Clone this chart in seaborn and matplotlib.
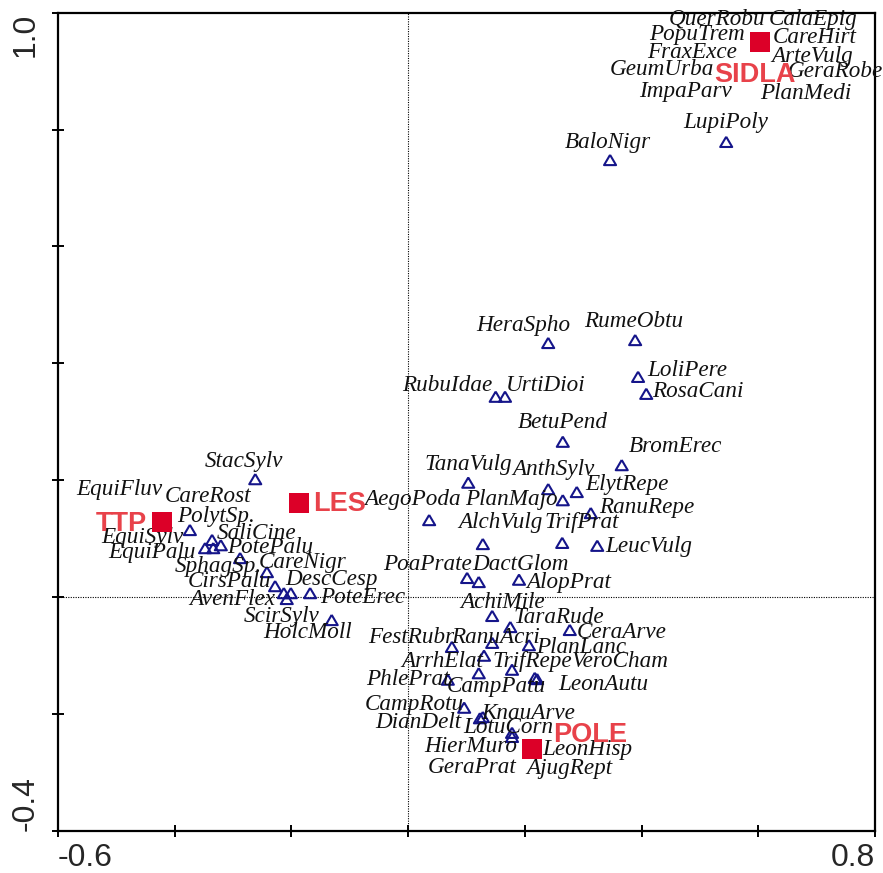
import matplotlib
matplotlib.use("Agg")
import matplotlib.pyplot as plt
import matplotlib.transforms as mtransforms
import pandas as pd
import seaborn as sns

# Species scores on the first two ordination axes
species = [
    "QuerRobu", "CalaEpig", "PopuTrem", "CareHirt", "FraxExce", "ArteVulg",
    "GeumUrba", "GeraRobe", "ImpaParv", "PlanMedi", "LupiPoly", "BaloNigr",
    "HeraSpho", "RumeObtu", "LoliPere", "RosaCani", "RubuIdae", "UrtiDioi",
    "BetuPend", "BromErec", "TanaVulg", "AnthSylv", "ElytRepe", "AegoPoda",
    "PlanMajo", "RanuRepe", "AlchVulg", "TrifPrat", "LeucVulg", "PoaPrate",
    "DactGlom", "AlopPrat", "AchiMile", "TaraRude", "CeraArve", "FestRubr",
    "RanuAcri", "PlanLanc", "ArrhElat", "TrifRepe", "VeroCham", "PhlePrat",
    "CampPatu", "LeonAutu", "CampRotu", "KnauArve", "DianDelt", "LotuCorn",
    "HierMuro", "LeonHisp", "GeraPrat", "AjugRept", "StacSylv", "EquiFluv",
    "CareRost", "PolytSp.", "SaliCine", "EquiSylv", "EquiPalu", "PotePalu",
    "SphagSp.", "CareNigr", "CirsPalu", "DescCesp", "AvenFlex", "PoteErec",
    "ScirSylv", "HolcMoll",
]
sp_x = [
    0.603, 0.603, 0.603, 0.603, 0.603, 0.603,
    0.603, 0.603, 0.603, 0.603, 0.545, 0.346,
    0.240, 0.389, 0.394, 0.408, 0.150, 0.166,
    0.265, 0.366, 0.103, 0.240, 0.289, 0.036,
    0.265, 0.313, 0.128, 0.264, 0.324, 0.101,
    0.121, 0.190, 0.144, 0.175, 0.277, 0.075,
    0.144, 0.207, 0.130, 0.178, 0.217, 0.068,
    0.121, 0.221, 0.096, 0.128, 0.123, 0.178,
    0.178, 0.212, 0.212, 0.212, -0.262, -0.422,
    -0.422, -0.374, -0.336, -0.348, -0.334, -0.321,
    -0.288, -0.242, -0.228, -0.201, -0.213, -0.168,
    -0.208, -0.131,
]
sp_y = [
    0.950, 0.950, 0.950, 0.950, 0.950, 0.950,
    0.950, 0.950, 0.950, 0.950, 0.779, 0.748,
    0.435, 0.440, 0.377, 0.348, 0.343, 0.343,
    0.266, 0.226, 0.196, 0.185, 0.180, 0.132,
    0.166, 0.144, 0.091, 0.093, 0.088, 0.033,
    0.026, 0.030, -0.032, -0.051, -0.056, -0.085,
    -0.078, -0.082, -0.100, -0.124, -0.138, -0.141,
    -0.130, -0.140, -0.189, -0.205, -0.207, -0.232,
    -0.239, -0.260, -0.260, -0.260, 0.202, 0.129,
    0.129, 0.115, 0.098, 0.084, 0.084, 0.089,
    0.067, 0.043, 0.019, 0.007, 0.007, 0.007,
    -0.003, -0.039,
]

# Sample-group centroids
groups = ["SIDLA", "LES", "TTP", "POLE"]
grp_x = [0.603, -0.187, -0.422, 0.212]
grp_y = [0.950, 0.161, 0.129, -0.260]

# Axis ticks and the end labels printed on them
x_ticks = [-0.6, -0.4, -0.2, 0.0, 0.2, 0.4, 0.6, 0.8]
y_ticks = [-0.4, -0.2, 0.0, 0.2, 0.4, 0.6, 0.8, 1.0]
x_end_labels = ["-0.6", "0.8"]
y_end_labels = ["-0.4", "1.0"]

# Label placement (pixel offsets from the symbol, label centre / baseline)
sp_label_offset = {
    "QuerRobu": (-43, 17), "CalaEpig": (53, 17), "PopuTrem": (-63, 2),
    "CareHirt": (55, -1), "FraxExce": (-68, -16), "ArteVulg": (52, -20),
    "GeumUrba": (-98, -33), "GeraRobe": (75, -35), "ImpaParv": (-75, -55),
    "PlanMedi": (46, -57), "LupiPoly": (0, 14), "BaloNigr": (-2, 12),
    "HeraSpho": (-25, 12), "RumeObtu": (-1, 13), "LoliPere": (49, 1),
    "RosaCani": (52, -3), "RubuIdae": (-48, 6), "UrtiDioi": (41, 6),
    "BetuPend": (0, 14), "BromErec": (54, 13), "TanaVulg": (0, 13),
    "AnthSylv": (5, 14), "ElytRepe": (50, 2), "AegoPoda": (-17, 15),
    "PlanMajo": (-51, -5), "RanuRepe": (56, 0), "AlchVulg": (18, 16),
    "TrifPrat": (20, 15), "LeucVulg": (52, -6), "PoaPrate": (-40, 8),
    "DactGlom": (42, 12), "AlopPrat": (50, -8), "AchiMile": (10, 8),
    "TaraRude": (49, 4), "CeraArve": (52, -8), "FestRubr": (-41, 4),
    "RanuAcri": (3, 0), "PlanLanc": (52, -8), "ArrhElat": (-42, -11),
    "TrifRepe": (20, 3), "VeroCham": (86, 11), "PhlePrat": (-40, -5),
    "CampPatu": (18, -19), "LeonAutu": (66, -11), "CampRotu": (-50, -2),
    "KnauArve": (45, -2), "DianDelt": (-62, -10), "LotuCorn": (-4, 0),
    "HierMuro": (-41, -15), "LeonHisp": (55, -6), "GeraPrat": (-60, -24),
    "AjugRept": (37, -25), "StacSylv": (-11, 12), "EquiFluv": (-43, 27),
    "CareRost": (46, 20), "PolytSp.": (26, 8), "SaliCine": (44, 1),
    "EquiSylv": (-63, 5), "EquiPalu": (-61, -10), "PotePalu": (49, -8),
    "SphagSp.": (-22, -14), "CareNigr": (36, 4), "CirsPalu": (-46, -1),
    "DescCesp": (41, 8), "AvenFlex": (-52, -12), "PoteErec": (53, -10),
    "ScirSylv": (-5, -23), "HolcMoll": (-24, -18),
}
grp_label_offset = {
    "SIDLA": (-5, -40), "LES": (40, -8), "TTP": (-41, -9), "POLE": (58, 7),
}

sns.set_style("white")
plt.rcParams["font.family"] = ["Liberation Sans", "DejaVu Sans"]

NAVY = "#15158a"
RED_MARK = "#dc0028"
RED_TEXT = "#e8424a"

fig = plt.figure(figsize=(8.83, 8.73), dpi=100)
ax = fig.add_axes([58 / 883, (873 - 831) / 873, 817 / 883, 818.3 / 873])

sp_df = pd.DataFrame({"species": species, "x": sp_x, "y": sp_y})
grp_df = pd.DataFrame({"group": groups, "x": grp_x, "y": grp_y})

# reference lines through the origin
ax.axvline(0, color="black", lw=0.8, ls=(0, (1, 1.2)), zorder=1)
ax.axhline(0, color="black", lw=0.8, ls=(0, (1, 1.2)), zorder=1)

tri = [(0, 0.85), (-1, -0.85), (1, -0.85), (0, 0.85)]
sns.scatterplot(data=sp_df, x="x", y="y", marker=tri, s=75,
                facecolor="none", edgecolor=NAVY, linewidth=1.5,
                legend=False, ax=ax, zorder=3)
sns.scatterplot(data=grp_df, x="x", y="y", marker="s", s=200,
                color=RED_MARK, linewidth=0, legend=False, ax=ax, zorder=5)

for name, x, y in zip(species, sp_x, sp_y):
    dx, dy = sp_label_offset[name]
    ax.annotate(name, (x, y), xytext=(dx, dy), textcoords="offset pixels",
                ha="center", va="baseline", fontsize=16.7, style="italic",
                family=["Liberation Serif", "DejaVu Serif"], color="#111111",
                zorder=4, annotation_clip=False)

for name, x, y in zip(groups, grp_x, grp_y):
    dx, dy = grp_label_offset[name]
    ax.annotate(name, (x, y), xytext=(dx, dy), textcoords="offset pixels",
                ha="center", va="baseline", fontsize=19.5, weight="bold",
                color=RED_TEXT, zorder=6, annotation_clip=False)

ax.set_xlim(-0.6, 0.8)
ax.set_ylim(-0.4, 1.0)
ax.set_xticks(x_ticks)
ax.set_yticks(y_ticks)
ax.set_xticklabels([])
ax.set_yticklabels([])
ax.set_xlabel("")
ax.set_ylabel("")
ax.tick_params(direction="inout", length=9, width=1.4, color="black",
               bottom=True, left=True, top=False, right=False)
for sp in ax.spines.values():
    sp.set_linewidth(1.6)
    sp.set_color("black")

# end labels on the axes
px_to_ax_y = 1 / 818.3
px_to_ax_x = 1 / 817
xt = mtransforms.blended_transform_factory(ax.transData, ax.transAxes)
ax.text(x_ticks[0], -35 * px_to_ax_y, x_end_labels[0], transform=xt,
        ha="left", va="baseline", fontsize=23)
ax.text(x_ticks[-1], -35 * px_to_ax_y, x_end_labels[1], transform=xt,
        ha="right", va="baseline", fontsize=23)
yt = mtransforms.blended_transform_factory(ax.transAxes, ax.transData)
ax.text(-32 * px_to_ax_x, y_ticks[0], y_end_labels[0], transform=yt,
        ha="center", va="bottom", rotation=90, fontsize=23)
ax.text(-32 * px_to_ax_x, y_ticks[-1], y_end_labels[1], transform=yt,
        ha="center", va="top", rotation=90, fontsize=23)

fig.savefig("out.png", dpi=100, facecolor="white")
